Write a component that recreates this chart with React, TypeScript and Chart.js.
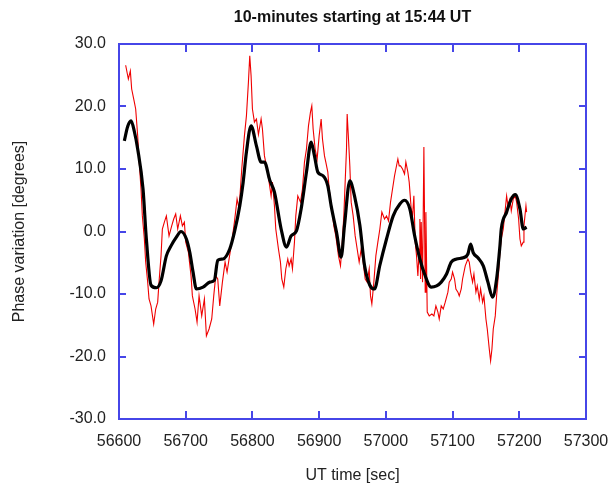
import React, { useEffect, useRef } from 'react';
import { Chart, registerables } from 'chart.js';

Chart.register(...registerables);

const TITLE = '10-minutes starting at 15:44 UT';
const X_LABEL = 'UT time [sec]';
const Y_LABEL = 'Phase variation [degrees]';

const xTicks = [56600, 56700, 56800, 56900, 57000, 57100, 57200, 57300];
const yTicks = [-30, -20, -10, 0, 10, 20, 30];

// raw phase (red)
const rawTime = [
  56610, 56614, 56617, 56619, 56623, 56625, 56628, 56630, 56633, 56635,
  56638, 56640, 56643, 56645, 56648, 56652, 56655, 56658, 56660, 56663,
  56665, 56668, 56671, 56675, 56679, 56682, 56685, 56688, 56692, 56695,
  56698, 56700, 56704, 56708, 56710, 56714, 56717, 56720, 56724, 56728,
  56731, 56735, 56739, 56742, 56745, 56748, 56751, 56755, 56759, 56762,
  56765, 56769, 56773, 56777, 56780, 56784, 56788, 56791, 56794, 56796,
  56798, 56800, 56803, 56806, 56809, 56813, 56815, 56818, 56822, 56825,
  56828, 56830, 56833, 56835, 56839, 56842, 56844, 56847, 56850, 56853,
  56855, 56858, 56860, 56863, 56865, 56868, 56872, 56875, 56878, 56881,
  56884, 56887, 56889, 56891, 56894, 56897, 56900, 56903, 56905, 56908,
  56910, 56913, 56915, 56919, 56922, 56925, 56929, 56932, 56934, 56937,
  56939, 56941, 56942, 56944, 56946, 56948, 56951, 56954, 56957, 56960,
  56963, 56966, 56969, 56972, 56975, 56977, 56979, 56982, 56985, 56988,
  56991, 56994, 56998, 57001, 57004, 57007, 57010, 57013, 57015, 57018,
  57020, 57022, 57025, 57028, 57030, 57033, 57035, 57038, 57040, 57042,
  57044, 57046, 57048, 57050, 57051, 57052, 57053, 57055, 57057, 57059,
  57060, 57062, 57065, 57069, 57072, 57075, 57078, 57080, 57083, 57086,
  57089, 57093, 57095, 57098, 57100, 57103, 57105, 57108, 57110, 57113,
  57115, 57119, 57123, 57125, 57127, 57130, 57132, 57135, 57137, 57140,
  57142, 57145, 57147, 57150, 57152, 57155, 57157, 57159, 57161, 57164,
  57166, 57169, 57171, 57173, 57176, 57178, 57181, 57183, 57186, 57188,
  57191, 57194, 57196, 57199, 57201, 57203, 57206, 57207, 57210, 57211,
];
const rawPhase = [
  26.6, 24.4, 25.7, 22.8, 20.7, 19.6, 15.3, 11.6, 6.8, 2.5,
  -1.2, -4.9, -8.1, -10.8, -11.9, -14.8, -12.4, -11.3, -8.1, -3.9,
  0.4, 1.5, 2.5, -0.7, 0.9, 2.0, 2.8, 0.4, 2.5, 0.9,
  1.5, -1.7, -3.3, -7.1, -10.3, -12.4, -14.5, -10.3, -13.5, -10.8,
  -16.7, -15.6, -14.0, -10.3, -7.1, -7.6, -11.9, -8.1, -4.9, -6.5,
  -4.4, -1.7, 1.5, 5.2, 3.6, 10.0, 15.3, 18.5, 23.9, 28.1,
  24.9, 19.6, 17.5, 18.0, 15.5, 18.0, 16.4, 12.1, 10.0, 7.9,
  5.7, 7.9, 4.1, 0.4, -2.8, -4.9, -7.6, -8.9, -6.0, -4.4,
  -5.5, -4.4, -6.0, -1.7, 2.5, 5.7, 4.7, 6.8, 11.1, 13.2,
  16.9, 19.1, 20.1, 16.4, 13.2, 11.6, 15.3, 18.0, 14.8, 12.1,
  11.1, 9.5, 6.8, 3.6, 0.9, -0.7, -3.9, -5.5, -2.8, 2.5,
  7.9, 13.2, 18.8, 14.8, 10.5, 4.7, 2.5, -0.7, -2.8, -4.9,
  -2.8, -4.9, -7.6, -8.1, -6.0, -10.3, -11.6, -8.1, -3.9, -1.7,
  0.4, 3.1, 2.0, 2.5, 1.7, 4.7, 6.8, 8.9, 10.0, 11.6,
  10.5, 10.5, 10.0, 9.2, 11.1, 9.5, 7.9, 3.6, 2.5, 5.7,
  -1.7, -3.9, -7.1, -2.8, 2.0, -7.6, 1.5, -8.1, 13.5, -9.7,
  3.1, -12.9, -13.5, -13.2, -13.5, -11.9, -12.9, -14.0, -11.9, -12.4,
  -11.3, -9.7, -8.1, -7.6, -6.5, -7.6, -9.2, -9.7, -10.3, -9.2,
  -7.6, -5.5, -4.4, -4.9, -6.5, -8.1, -6.8, -9.7, -8.7, -10.8,
  -9.2, -11.3, -10.3, -14.0, -15.6, -18.8, -20.7, -18.8, -15.6, -13.5,
  -10.3, -6.5, -3.3, -1.2, 0.4, 2.5, 5.7, 4.1, 5.2, 3.3,
  5.2, 5.7, 4.7, 2.0, -1.2, -2.3, -1.7, 0.9, 4.1, 3.1,
];

// smoothed phase (black)
const smoothTime = [
  56608, 56613, 56618, 56623, 56628, 56636, 56641, 56648, 56656, 56663,
  56671, 56678, 56686, 56693, 56701, 56706, 56711, 56716, 56726, 56736,
  56743, 56748, 56756, 56766, 56773, 56781, 56786, 56791, 56798, 56806,
  56813, 56818, 56826, 56833, 56843, 56851, 56858, 56866, 56873, 56881,
  56888, 56893, 56898, 56906, 56913, 56918, 56926, 56933, 56938, 56946,
  56953, 56961, 56968, 56976, 56983, 56991, 57001, 57011, 57021, 57028,
  57036, 57043, 57051, 57058, 57068, 57076, 57083, 57091, 57098, 57106,
  57116, 57123, 57127, 57131, 57138, 57146, 57153, 57160, 57166, 57171,
  57173, 57181, 57188, 57194, 57201, 57206, 57211,
];
const smoothPhase = [
  14.5, 16.8, 17.7, 16.0, 13.2, 6.8, -1.2, -8.6, -9.0, -7.9,
  -3.9, -2.3, -0.9, 0.0, -1.2, -3.3, -6.5, -9.2, -8.9, -8.1,
  -7.8, -4.6, -4.4, -2.8, -0.1, 4.1, 7.8, 12.7, 16.9, 13.7,
  11.1, 11.1, 8.2, 6.3, 0.4, -2.5, -0.7, 0.1, 3.6, 9.5,
  14.3, 12.1, 9.5, 8.9, 7.3, 4.1, -0.1, -4.1, 1.0, 8.1,
  5.7, 1.0, -5.4, -8.6, -9.2, -5.4, -1.2, 2.5, 4.4, 5.0,
  3.6, -0.6, -4.4, -6.8, -8.9, -8.7, -8.1, -6.8, -4.9, -4.4,
  -4.2, -3.6, -2.0, -3.4, -4.2, -5.5, -8.1, -10.5, -7.6, -2.3,
  0.4, 3.1, 5.2, 5.9, 3.6, 0.4, 0.7,
];

const AXIS_BLUE = '#4646e8';
const TEXT_COLOR = '#222222';
const FONT = "'Liberation Sans', Arial, Helvetica, sans-serif";

const frameTicks = {
  id: 'frameTicks',
  afterDatasetsDraw(chart: any) {
    const { ctx, chartArea: ca, scales } = chart;
    ctx.save();
    ctx.strokeStyle = AXIS_BLUE;
    ctx.lineWidth = 2;
    ctx.beginPath();
    for (const v of xTicks) {
      const px = Math.round(scales.x.getPixelForValue(v));
      ctx.moveTo(px, ca.bottom);
      ctx.lineTo(px, ca.bottom - 8);
      ctx.moveTo(px, ca.top);
      ctx.lineTo(px, ca.top + 8);
    }
    for (const v of yTicks) {
      const py = Math.round(scales.y.getPixelForValue(v));
      ctx.moveTo(ca.left, py);
      ctx.lineTo(ca.left + 7, py);
      ctx.moveTo(ca.right, py);
      ctx.lineTo(ca.right - 7, py);
    }
    ctx.stroke();
    ctx.restore();
  },
  afterDraw(chart: any) {
    const { ctx, chartArea: ca } = chart;
    ctx.save();
    ctx.font = `bold 16px ${FONT}`;
    ctx.fillStyle = '#111111';
    ctx.textAlign = 'center';
    ctx.textBaseline = 'middle';
    ctx.fillText(TITLE, (ca.left + ca.right) / 2, 18);
    ctx.restore();
  },
};

export default function App() {
  const canvasRef = useRef<HTMLCanvasElement | null>(null);

  useEffect(() => {
    const canvas = canvasRef.current;
    if (!canvas) return;
    const tickFont = { family: FONT, size: 16 };
    const chart = new Chart(canvas, {
      type: 'line',
      data: {
        datasets: [
          {
            label: 'smoothed',
            data: smoothTime.map((t, i) => ({ x: t, y: smoothPhase[i] })),
            borderColor: '#000000',
            borderWidth: 3.2,
            pointRadius: 0,
            cubicInterpolationMode: 'monotone',
            xAxisID: 'x',
            yAxisID: 'y',
          },
          {
            label: 'raw',
            data: rawTime.map((t, i) => ({ x: t, y: rawPhase[i] })),
            borderColor: '#f00000',
            borderWidth: 1.1,
            pointRadius: 0,
            tension: 0,
            xAxisID: 'x',
            yAxisID: 'y',
          },
        ],
      },
      options: {
        responsive: false,
        animation: false,
        devicePixelRatio: 1,
        layout: { padding: 0 },
        plugins: {
          legend: { display: false },
          title: { display: false },
          tooltip: { enabled: false },
        },
        scales: {
          x: {
            type: 'linear',
            position: 'bottom',
            min: 56600,
            max: 57300,
            afterBuildTicks: (s: any) => {
              s.ticks = xTicks.map((v) => ({ value: v }));
            },
            ticks: {
              autoSkip: false,
              maxRotation: 0,
              padding: 13,
              color: TEXT_COLOR,
              font: tickFont,
              callback: (v: any) => String(v),
            },
            grid: { display: false, drawTicks: false },
            border: { display: true, color: AXIS_BLUE, width: 2 },
            title: {
              display: true,
              text: X_LABEL,
              color: TEXT_COLOR,
              font: tickFont,
              padding: { top: 0, bottom: 0 },
            },
            afterFit: (s: any) => {
              s.height = 66;
              s.paddingLeft = 0;
              s.paddingRight = 0;
            },
          },
          xTop: {
            type: 'linear',
            axis: 'x',
            position: 'top',
            min: 56600,
            max: 57300,
            ticks: { display: false },
            grid: { display: false, drawTicks: false },
            border: { display: true, color: AXIS_BLUE, width: 2 },
            afterFit: (s: any) => {
              s.height = 44;
              s.paddingLeft = 0;
              s.paddingRight = 0;
            },
          },
          y: {
            type: 'linear',
            position: 'left',
            min: -30,
            max: 30,
            afterBuildTicks: (s: any) => {
              s.ticks = yTicks.map((v) => ({ value: v }));
            },
            ticks: {
              autoSkip: false,
              padding: 13,
              color: TEXT_COLOR,
              font: tickFont,
              callback: (v: any) => Number(v).toFixed(1),
            },
            grid: { display: false, drawTicks: false },
            border: { display: true, color: AXIS_BLUE, width: 2 },
            title: {
              display: true,
              text: Y_LABEL,
              color: TEXT_COLOR,
              font: tickFont,
              padding: { top: 10, bottom: 0 },
            },
            afterFit: (s: any) => {
              s.width = 119;
              s.paddingTop = 0;
              s.paddingBottom = 0;
            },
          },
          yRight: {
            type: 'linear',
            axis: 'y',
            position: 'right',
            min: -30,
            max: 30,
            ticks: { display: false },
            grid: { display: false, drawTicks: false },
            border: { display: true, color: AXIS_BLUE, width: 2 },
            afterFit: (s: any) => {
              s.width = 27;
              s.paddingTop = 0;
              s.paddingBottom = 0;
            },
          },
        },
      },
      plugins: [frameTicks],
    } as any);
    return () => chart.destroy();
  }, []);

  return (
    <div
      style={{
        position: 'fixed',
        left: 0,
        top: 0,
        width: 613,
        height: 485,
        background: '#ffffff',
      }}
    >
      <canvas ref={canvasRef} width={613} height={485} style={{ display: 'block' }} />
    </div>
  );
}
